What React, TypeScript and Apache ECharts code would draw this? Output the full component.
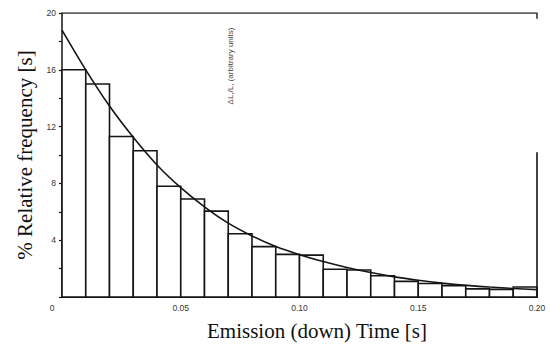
import React, { useEffect, useRef } from "react";
import * as echarts from "echarts";

// Histogram bins (start of each 0.01 s bin) and relative frequencies (%)
const binStarts = [0, 0.01, 0.02, 0.03, 0.04, 0.05, 0.06, 0.07, 0.08, 0.09, 0.1, 0.11, 0.12, 0.13, 0.14, 0.15, 0.16, 0.17, 0.18, 0.19];
const binWidth = 0.01;
const frequencies = [16.0, 15.0, 11.3, 10.3, 7.8, 6.9, 6.05, 4.45, 3.55, 3.0, 2.95, 1.95, 1.9, 1.5, 1.1, 0.95, 0.8, 0.57, 0.54, 0.7];

// Fitted decay curve
const curveT = [0, 0.01, 0.02, 0.03, 0.04, 0.05, 0.06, 0.07, 0.08, 0.09, 0.1, 0.11, 0.12, 0.13, 0.14, 0.15, 0.16, 0.17, 0.18, 0.19, 0.2];
const curveV = [18.8, 16.0, 13.45, 11.25, 9.3, 7.7, 6.35, 5.2, 4.3, 3.55, 2.98, 2.5, 2.08, 1.72, 1.42, 1.18, 0.98, 0.82, 0.7, 0.6, 0.52];

// Axis ticks
const xTicks = [0, 0.05, 0.1, 0.15, 0.2];
const yLabelled = [4, 8, 12, 16, 20];

const INK = "#151515";

export default function App() {
  const ref = useRef<HTMLDivElement>(null);
  useEffect(() => {
    if (!ref.current) return;
    document.body.style.margin = "0";
    const chart = echarts.init(ref.current, undefined, { renderer: "svg" });
    const barData = binStarts.map((s, i) => [s, s + binWidth, frequencies[i]]);
    chart.setOption({
      animation: false,
      backgroundColor: "#ffffff",
      grid: { left: 62, top: 13, right: 13, bottom: 50, containLabel: false },
      xAxis: {
        type: "value",
        min: 0,
        max: 0.2,
        interval: 0.05,
        axisLine: { lineStyle: { color: INK, width: 2 } },
        axisTick: { show: false },
        splitLine: { show: false },
        axisLabel: {
          color: "#333",
          fontSize: 8.5,
          fontFamily: "Liberation Sans Narrow, Liberation Sans, sans-serif",
          margin: 6,
          showMaxLabel: true,
          formatter: (v: number) => {
            if (!xTicks.some((t) => Math.abs(t - v) < 1e-9)) return "";
            return v === 0 ? "{o|0}" : v.toFixed(2);
          },
          rich: { o: { padding: [0, 20, 0, 0], fontSize: 8.5, color: "#333" } },
        },
      },
      yAxis: {
        type: "value",
        min: 0,
        max: 20,
        interval: 2,
        axisLine: { show: true, lineStyle: { color: INK, width: 1.5 } },
        axisTick: { show: true, length: 3, lineStyle: { color: INK, width: 1.2 } },
        splitLine: { show: false },
        axisLabel: {
          color: "#333",
          fontSize: 8.5,
          fontFamily: "Liberation Sans Narrow, Liberation Sans, sans-serif",
          margin: 6,
          formatter: (v: number) => (yLabelled.includes(v) ? String(v) : ""),
        },
      },
      series: [
        {
          type: "custom",
          data: barData,
          renderItem: (params: any, api: any) => {
            const p0 = api.coord([api.value(0), api.value(2)]);
            const p1 = api.coord([api.value(1), 0]);
            return {
              type: "rect",
              shape: { x: p0[0], y: p0[1], width: p1[0] - p0[0], height: p1[1] - p0[1] },
              style: { fill: "#ffffff", stroke: INK, lineWidth: 1.6 },
            };
          },
          z: 2,
        },
        {
          type: "line",
          data: curveT.map((t, i) => [t, curveV[i]]),
          smooth: 0.3,
          showSymbol: false,
          lineStyle: { color: INK, width: 1.6 },
          z: 3,
        },
        {
          type: "line",
          data: [[0, 20], [0.2, 20], [0.2, 19.6]],
          showSymbol: false,
          lineStyle: { color: "#333", width: 1.6 },
          z: 3,
        },
        {
          type: "line",
          data: [[0.2, 0], [0.2, 10.2]],
          showSymbol: false,
          lineStyle: { color: INK, width: 1.6 },
          z: 3,
        },
      ],
      graphic: [
        {
          type: "text",
          x: 25,
          y: 155,
          rotation: Math.PI / 2,
          style: {
            text: "% Relative frequency [s]",
            fill: "#111",
            font: '21px "Liberation Serif", serif',
            align: "center",
            verticalAlign: "middle",
          },
        },
        {
          type: "text",
          x: 317,
          y: 331,
          style: {
            text: "Emission (down) Time [s]",
            fill: "#111",
            font: '21px "Liberation Serif", serif',
            align: "center",
            verticalAlign: "middle",
          },
        },
        {
          type: "text",
          x: 230,
          y: 66,
          rotation: Math.PI / 2,
          style: {
            text: "ΔL,/L, (arbitrary units)",
            fill: "#444",
            font: '8px "Liberation Sans Narrow", "Liberation Sans", sans-serif',
            align: "center",
            verticalAlign: "middle",
          },
        },
      ],
    });
    return () => chart.dispose();
  }, []);
  return (
    <div
      ref={ref}
      style={{ position: "absolute", left: 0, top: 0, width: 550, height: 347 }}
    />
  );
}
